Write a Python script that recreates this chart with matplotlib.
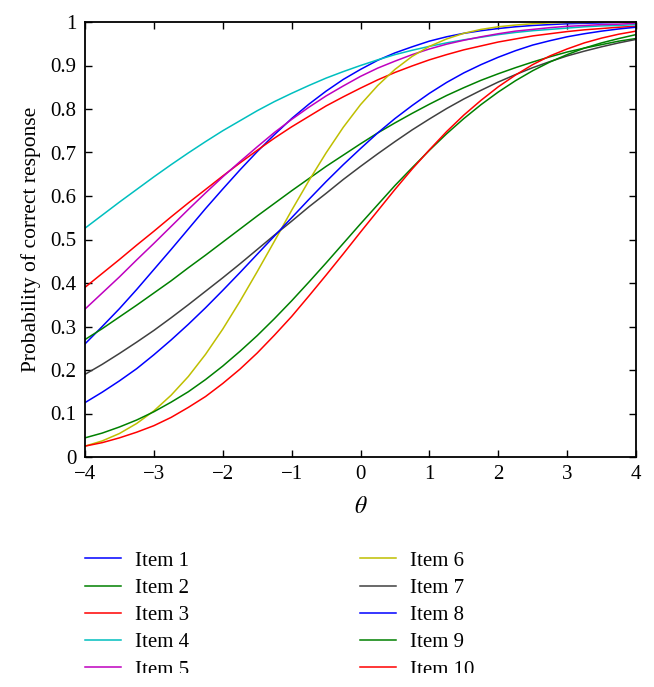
import numpy as np
import matplotlib
matplotlib.use('Agg')
import matplotlib.pyplot as plt
from matplotlib.patches import Rectangle

plt.rcParams['font.family'] = ['Liberation Serif', 'DejaVu Serif']
plt.rcParams['mathtext.fontset'] = 'stix'

# ability grid (theta) and probabilities
theta = np.linspace(-4, 4, 33)

item1 = [0.260, 0.300, 0.341, 0.385, 0.431, 0.477, 0.524, 0.571, 0.616, 0.660, 0.702, 0.741, 0.778,
         0.811, 0.841, 0.868, 0.891, 0.912, 0.929, 0.943, 0.956, 0.966, 0.974, 0.980, 0.985, 0.989,
         0.992, 0.994, 0.996, 0.997, 0.998, 0.999, 0.999]
item2 = [0.270, 0.295, 0.322, 0.349, 0.377, 0.405, 0.435, 0.464, 0.494, 0.524, 0.554, 0.583, 0.612,
         0.640, 0.668, 0.694, 0.720, 0.745, 0.768, 0.790, 0.811, 0.831, 0.849, 0.866, 0.881, 0.895,
         0.908, 0.920, 0.931, 0.940, 0.948, 0.956, 0.962]
item3 = [0.390, 0.422, 0.454, 0.487, 0.519, 0.552, 0.584, 0.615, 0.646, 0.676, 0.705, 0.733, 0.759,
         0.783, 0.807, 0.828, 0.848, 0.867, 0.884, 0.899, 0.913, 0.925, 0.936, 0.945, 0.954, 0.961,
         0.968, 0.973, 0.978, 0.982, 0.985, 0.988, 0.990]
item4 = [0.526, 0.556, 0.586, 0.615, 0.644, 0.672, 0.699, 0.725, 0.750, 0.773, 0.796, 0.817, 0.836,
         0.854, 0.871, 0.886, 0.900, 0.913, 0.925, 0.935, 0.944, 0.952, 0.959, 0.965, 0.971, 0.976,
         0.980, 0.983, 0.986, 0.989, 0.991, 0.992, 0.994]
item5 = [0.340, 0.377, 0.414, 0.453, 0.491, 0.530, 0.569, 0.607, 0.644, 0.679, 0.713, 0.746, 0.776,
         0.804, 0.830, 0.853, 0.875, 0.894, 0.910, 0.925, 0.938, 0.949, 0.958, 0.966, 0.973, 0.979,
         0.983, 0.987, 0.990, 0.992, 0.994, 0.995, 0.997]
item6 = [0.025, 0.037, 0.054, 0.077, 0.106, 0.142, 0.185, 0.236, 0.294, 0.358, 0.426, 0.496, 0.567,
         0.635, 0.699, 0.758, 0.810, 0.854, 0.891, 0.921, 0.944, 0.961, 0.974, 0.983, 0.989, 0.993,
         0.996, 0.998, 0.999, 0.999, 1.000, 1.000, 1.000]
item7 = [0.190, 0.213, 0.238, 0.264, 0.291, 0.320, 0.350, 0.381, 0.412, 0.444, 0.477, 0.510, 0.542,
         0.575, 0.606, 0.638, 0.668, 0.697, 0.725, 0.752, 0.777, 0.801, 0.823, 0.843, 0.862, 0.879,
         0.895, 0.909, 0.922, 0.933, 0.943, 0.952, 0.960]
item8 = [0.125, 0.149, 0.175, 0.203, 0.235, 0.269, 0.305, 0.343, 0.383, 0.424, 0.466, 0.508, 0.550,
         0.592, 0.633, 0.672, 0.709, 0.745, 0.778, 0.808, 0.836, 0.861, 0.883, 0.902, 0.919, 0.934,
         0.947, 0.957, 0.966, 0.973, 0.979, 0.984, 0.988]
item9 = [0.044, 0.055, 0.069, 0.085, 0.104, 0.126, 0.150, 0.178, 0.209, 0.243, 0.279, 0.318, 0.359,
         0.402, 0.446, 0.491, 0.536, 0.580, 0.624, 0.665, 0.705, 0.743, 0.778, 0.810, 0.839, 0.865,
         0.888, 0.908, 0.925, 0.940, 0.952, 0.962, 0.971]
item10 = [0.025, 0.033, 0.044, 0.057, 0.072, 0.091, 0.114, 0.139, 0.169, 0.202, 0.239, 0.280, 0.323,
          0.370, 0.418, 0.467, 0.517, 0.566, 0.615, 0.662, 0.706, 0.748, 0.786, 0.820, 0.851, 0.878,
          0.902, 0.922, 0.938, 0.952, 0.963, 0.972, 0.979]

items = [item1, item2, item3, item4, item5, item6, item7, item8, item9, item10]
labels = ['Item ' + str(i + 1) for i in range(10)]
# old matlab line colour cycle
colors = ['#0000ff', '#008000', '#ff0000', '#00bfbf', '#bf00bf',
          '#bfbf00', '#404040', '#0000ff', '#008000', '#ff0000']

fig = plt.figure(figsize=(6.54, 6.87), dpi=100)
ax = fig.add_axes([85 / 654, 1 - 457 / 687, 551 / 654, 435 / 687])

for vals, lab, col in zip(items, labels, colors):
    ax.plot(theta, vals, color=col, lw=1.1, label=lab)

ax.set_xlim(-4, 4)
ax.set_ylim(0, 1)
ax.set_xticks(np.arange(-4, 5, 1))
ax.set_yticks(np.arange(0, 1.01, 0.1))
ax.set_yticklabels(['0', '0.1', '0.2', '0.3', '0.4', '0.5', '0.6', '0.7', '0.8', '0.9', '1'])
ax.tick_params(direction='in', top=True, right=True, length=5, width=1.0,
               labelsize=15, pad=6)
for sp in ax.spines.values():
    sp.set_linewidth(1.3)

ax.set_xlabel(r'$\theta$', fontsize=17, labelpad=9)
ax.set_ylabel('Probability of correct response', fontsize=15.5, labelpad=7)

fig.legend(loc='upper left', bbox_to_anchor=(85 / 654, 1 - 551 / 687), ncol=2,
           frameon=False, fontsize=15, borderpad=0, borderaxespad=0,
           handlelength=1.75, handletextpad=0.65, labelspacing=0.37,
           columnspacing=8.2)

# the source image is cut off just below the legend
fig.patches.append(Rectangle((0, 0), 1, 14 / 687, transform=fig.transFigure,
                             facecolor='white', edgecolor='none', zorder=20))

fig.savefig('out.png', dpi=100)
